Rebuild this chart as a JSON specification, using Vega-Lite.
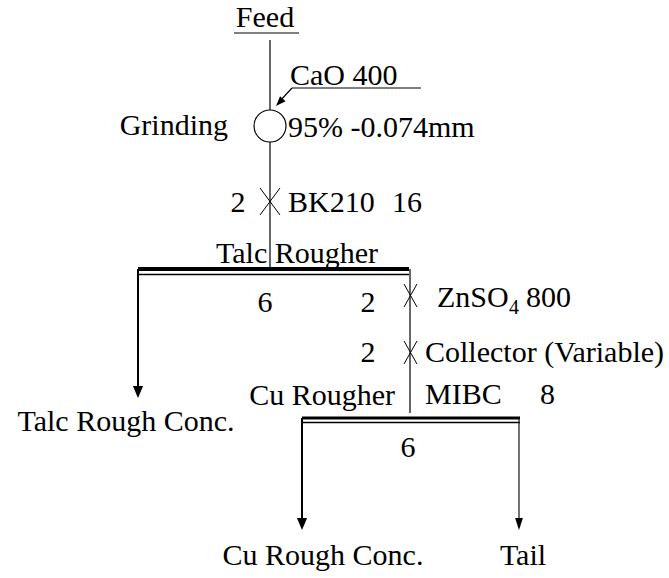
{
  "$schema": "https://vega.github.io/schema/vega-lite/v6.json",
  "width": 669,
  "height": 578,
  "autosize": {"type": "none"},
  "padding": 0,
  "background": "white",
  "config": {"view": {"stroke": null}},
  "datasets": {
    "segments": [
      {"x": 234, "y": 33, "x2": 299, "y2": 33, "kind": "link"},
      {"x": 270, "y": 40, "x2": 270, "y2": 110, "kind": "link"},
      {"x": 292, "y": 88, "x2": 421, "y2": 88, "kind": "link"},
      {"x": 292, "y": 88, "x2": 279, "y2": 102, "kind": "link"},
      {"x": 270, "y": 142, "x2": 270, "y2": 269, "kind": "link"},
      {"x": 260, "y": 188, "x2": 280, "y2": 215, "kind": "dose"},
      {"x": 260, "y": 215, "x2": 280, "y2": 188, "kind": "dose"},
      {"x": 410, "y": 269, "x2": 410, "y2": 413, "kind": "link"},
      {"x": 404, "y": 284, "x2": 417, "y2": 307, "kind": "dose"},
      {"x": 404, "y": 307, "x2": 417, "y2": 284, "kind": "dose"},
      {"x": 404, "y": 341, "x2": 417, "y2": 364, "kind": "dose"},
      {"x": 404, "y": 364, "x2": 417, "y2": 341, "kind": "dose"},
      {"x": 138, "y": 269, "x2": 409, "y2": 269, "kind": "talcTop"},
      {"x": 138, "y": 274.5, "x2": 409, "y2": 274.5, "kind": "cellBottom"},
      {"x": 302, "y": 418, "x2": 520, "y2": 418, "kind": "cuTop"},
      {"x": 302, "y": 422.5, "x2": 520, "y2": 422.5, "kind": "cellBottom"},
      {"x": 138, "y": 269, "x2": 138, "y2": 392, "kind": "stream"},
      {"x": 302, "y": 418, "x2": 302, "y2": 524, "kind": "stream"},
      {"x": 519, "y": 418, "x2": 519, "y2": 524, "kind": "tail"}
    ],
    "heads": [
      {"x": 138, "y": 398, "kind": "down"},
      {"x": 302, "y": 530, "kind": "down"},
      {"x": 519, "y": 530, "kind": "tail"},
      {"x": 276, "y": 106, "kind": "reagent"}
    ],
    "mills": [
      {"x": 270, "y": 126, "name": "Grinding"}
    ],
    "labels": [
      {"text": "Feed", "x": 265, "y": 27, "role": "title"},
      {"text": "CaO 400", "x": 290, "y": 85, "role": "note"},
      {"text": "Grinding", "x": 228, "y": 135, "role": "unit"},
      {"text": "95% -0.074mm", "x": 288, "y": 137, "role": "note"},
      {"text": "2", "x": 238, "y": 212, "role": "title"},
      {"text": "BK210", "x": 288, "y": 212, "role": "note"},
      {"text": "16", "x": 392, "y": 212, "role": "note"},
      {"text": "Talc Rougher", "x": 297, "y": 263, "role": "title"},
      {"text": "6", "x": 265, "y": 312, "role": "title"},
      {"text": "2", "x": 368, "y": 312, "role": "title"},
      {"text": "ZnSO", "x": 437, "y": 307, "role": "note"},
      {"text": "4", "x": 509, "y": 314, "role": "sub"},
      {"text": "800", "x": 526, "y": 307, "role": "note"},
      {"text": "2", "x": 368, "y": 362, "role": "title"},
      {"text": "Collector (Variable)", "x": 425, "y": 362, "role": "note"},
      {"text": "MIBC", "x": 425, "y": 404, "role": "note"},
      {"text": "8", "x": 540, "y": 404, "role": "note"},
      {"text": "Cu Rougher", "x": 395, "y": 405, "role": "unit"},
      {"text": "Talc Rough Conc.", "x": 126, "y": 431, "role": "title"},
      {"text": "6", "x": 408, "y": 457, "role": "title"},
      {"text": "Cu Rough Conc.", "x": 323, "y": 565, "role": "title"},
      {"text": "Tail", "x": 523, "y": 565, "role": "title"}
    ]
  },
  "encoding": {
    "x": {"field": "x", "type": "quantitative", "scale": {"domain": [0, 669], "nice": false, "zero": false}, "axis": null},
    "y": {"field": "y", "type": "quantitative", "scale": {"domain": [0, 578], "nice": false, "zero": false, "reverse": true}, "axis": null}
  },
  "layer": [
    {
      "data": {"name": "segments"},
      "transform": [{"filter": "datum.kind === 'link'"}],
      "mark": {"type": "rule", "color": "black", "strokeWidth": 1.2},
      "encoding": {"x2": {"field": "x2"}, "y2": {"field": "y2"}}
    },
    {
      "data": {"name": "segments"},
      "transform": [{"filter": "datum.kind === 'dose'"}],
      "mark": {"type": "rule", "color": "black", "strokeWidth": 1},
      "encoding": {"x2": {"field": "x2"}, "y2": {"field": "y2"}}
    },
    {
      "data": {"name": "segments"},
      "transform": [{"filter": "datum.kind === 'talcTop'"}],
      "mark": {"type": "rule", "color": "black", "strokeWidth": 4},
      "encoding": {"x2": {"field": "x2"}, "y2": {"field": "y2"}}
    },
    {
      "data": {"name": "segments"},
      "transform": [{"filter": "datum.kind === 'cuTop'"}],
      "mark": {"type": "rule", "color": "black", "strokeWidth": 2.8},
      "encoding": {"x2": {"field": "x2"}, "y2": {"field": "y2"}}
    },
    {
      "data": {"name": "segments"},
      "transform": [{"filter": "datum.kind === 'cellBottom'"}],
      "mark": {"type": "rule", "color": "black", "strokeWidth": 1.4},
      "encoding": {"x2": {"field": "x2"}, "y2": {"field": "y2"}}
    },
    {
      "data": {"name": "segments"},
      "transform": [{"filter": "datum.kind === 'stream'"}],
      "mark": {"type": "rule", "color": "black", "strokeWidth": 2},
      "encoding": {"x2": {"field": "x2"}, "y2": {"field": "y2"}}
    },
    {
      "data": {"name": "segments"},
      "transform": [{"filter": "datum.kind === 'tail'"}],
      "mark": {"type": "rule", "color": "black", "strokeWidth": 1.1},
      "encoding": {"x2": {"field": "x2"}, "y2": {"field": "y2"}}
    },
    {
      "data": {"name": "heads"},
      "transform": [{"filter": "datum.kind === 'down'"}],
      "mark": {"type": "point", "shape": "M-0.85,-2L0.85,-2L0,0Z", "size": 144, "filled": true, "color": "black", "opacity": 1, "strokeWidth": 0}
    },
    {
      "data": {"name": "heads"},
      "transform": [{"filter": "datum.kind === 'tail'"}],
      "mark": {"type": "point", "shape": "M-0.65,-2L0.65,-2L0,0Z", "size": 144, "filled": true, "color": "black", "opacity": 1, "strokeWidth": 0}
    },
    {
      "data": {"name": "heads"},
      "transform": [{"filter": "datum.kind === 'reagent'"}],
      "mark": {"type": "point", "shape": "M-0.75,-2L0.75,-2L0,0Z", "size": 100, "filled": true, "color": "black", "opacity": 1, "strokeWidth": 0, "angle": 43}
    },
    {
      "data": {"name": "mills"},
      "mark": {"type": "point", "shape": "circle", "size": 1024, "filled": false, "color": "black", "opacity": 1, "strokeWidth": 1.2}
    },
    {
      "data": {"name": "labels"},
      "transform": [{"filter": "datum.role === 'title'"}],
      "mark": {"type": "text", "align": "center", "baseline": "alphabetic", "font": "Liberation Serif", "fontSize": 30, "color": "black"},
      "encoding": {"text": {"field": "text"}}
    },
    {
      "data": {"name": "labels"},
      "transform": [{"filter": "datum.role === 'note'"}],
      "mark": {"type": "text", "align": "left", "baseline": "alphabetic", "font": "Liberation Serif", "fontSize": 30, "color": "black"},
      "encoding": {"text": {"field": "text"}}
    },
    {
      "data": {"name": "labels"},
      "transform": [{"filter": "datum.role === 'unit'"}],
      "mark": {"type": "text", "align": "right", "baseline": "alphabetic", "font": "Liberation Serif", "fontSize": 30, "color": "black"},
      "encoding": {"text": {"field": "text"}}
    },
    {
      "data": {"name": "labels"},
      "transform": [{"filter": "datum.role === 'sub'"}],
      "mark": {"type": "text", "align": "left", "baseline": "alphabetic", "font": "Liberation Serif", "fontSize": 20, "color": "black"},
      "encoding": {"text": {"field": "text"}}
    }
  ]
}
